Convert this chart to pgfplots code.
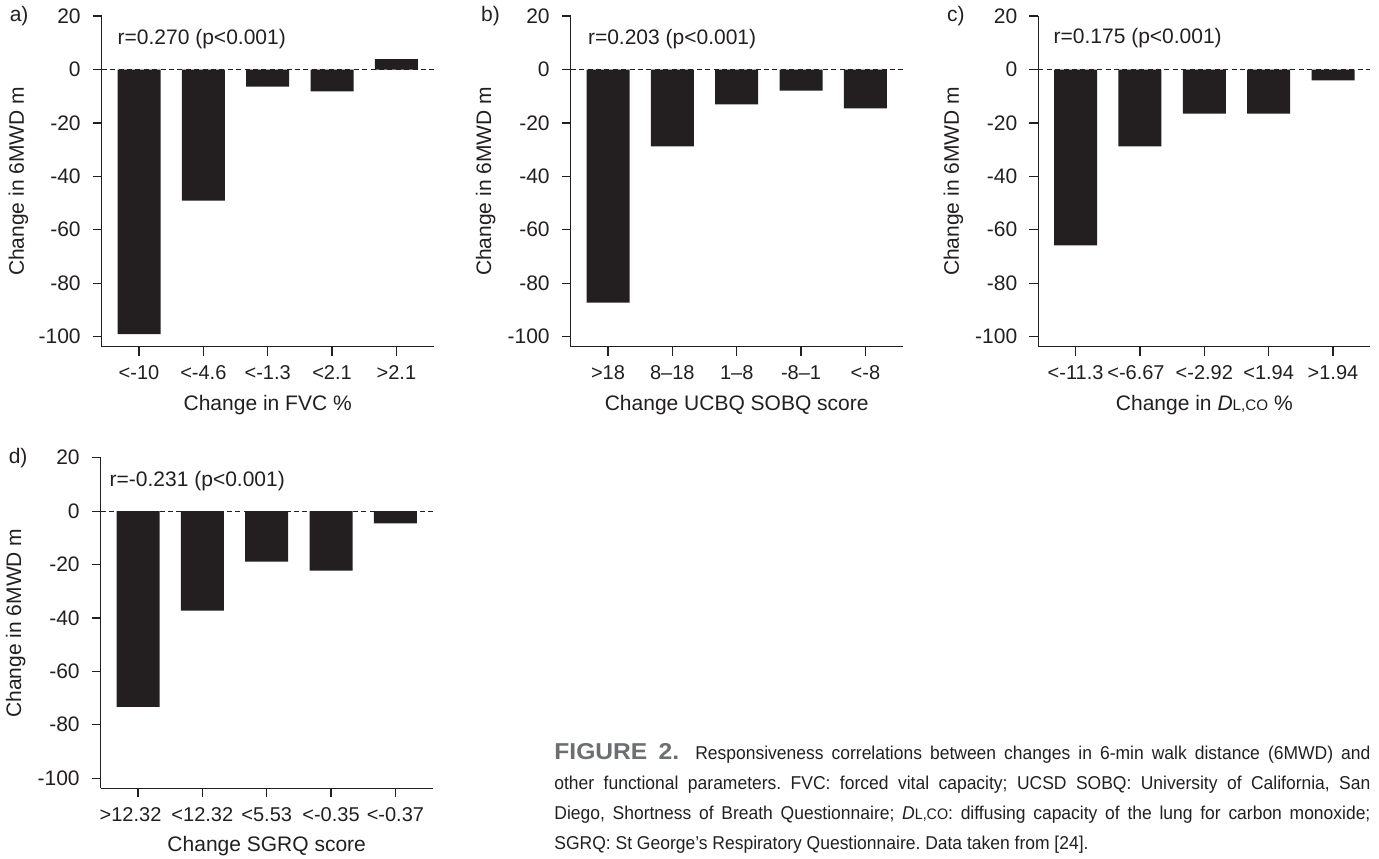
\documentclass[border=0pt]{standalone}
\usepackage{fontspec}
\setmainfont{Liberation Sans}
\newfontfamily\capfont[FakeStretch=0.94]{Liberation Sans}
\newfontfamily\figfont[FakeStretch=1.07]{Liberation Sans}
\usepackage{pgfplots}
\pgfplotsset{compat=1.18}
\definecolor{ink}{HTML}{231F20}
\definecolor{figgray}{HTML}{6D6E71}
\newcommand\chartfont{\fontsize{10.5}{12}\selectfont}
\newcommand\tickfont{\fontsize{10}{12}\selectfont}
\newcommand\smallcaps[1]{{\fontsize{7.6}{9}\selectfont #1}}
\pgfplotsset{
  panel/.style={
    scale only axis, width=166pt, height=165.3pt,
    xmin=-0.58, xmax=4.58, ymin=-103.8, ymax=20,
    axis x line*=bottom, axis y line*=left,
    axis line style={-, ink, line width=0.6pt},
    tick align=outside, major tick length=4.5pt,
    tick style={ink, line width=0.6pt},
    xtick={0,1,2,3,4},
    ytick={-100,-80,-60,-40,-20,0,20},
    yticklabels={-100,-80,-60,-40,-20,0,20},
    tick label style={font=\tickfont, text=ink},
    yticklabel style={xshift=-2.5pt, font=\chartfont},
    xticklabel style={anchor=base, yshift=-12pt},
    label style={font=\chartfont, text=ink},
    ylabel={Change in 6MWD m},
    ylabel style={at={(rel axis cs:-0.256,0.5)}, anchor=center},
    xlabel style={at={(rel axis cs:0.5,-0.192)}, anchor=base},
    clip=false,
  },
  bars/.style={ybar, bar width=21.5pt, fill=ink, draw=none},
  zero/.style={sharp plot, ink, line width=0.5pt, dash pattern=on 2.5pt off 1.7pt, forget plot},
}
\begin{document}
\frenchspacing
\begin{tikzpicture}
\useasboundingbox (0,0) rectangle (689.5pt,429pt);
% panel a
\begin{axis}[panel, at={(50.85pt,255.65pt)}, anchor=south west,
  xticklabels={<-10,<-4.6,<-1.3,<2.1,>2.1},
  xlabel={Change in FVC \%},
  ylabel style={at={(rel axis cs:-0.251,0.5)}}]
  \addplot[bars] coordinates {(0,-99.1) (1,-49.1) (2,-6.4) (3,-8.2) (4,3.9)};
  \addplot[zero] coordinates {(-0.58,0) (4.58,0)};
  \node[anchor=west, font=\chartfont, text=ink, inner sep=0pt] at (rel axis cs:0.047,0.93) {r=0.270 (p<0.001)};
  \node[anchor=west, font=\chartfont, text=ink, inner sep=0pt] at (rel axis cs:-0.278,1) {a)};
\end{axis}
% panel b
\begin{axis}[panel, at={(285.35pt,255.65pt)}, anchor=south west,
  xticklabels={>18,8–18,1–8,-8–1,<-8},
  xlabel={Change UCBQ SOBQ score}]
  \addplot[bars] coordinates {(0,-87.3) (1,-28.8) (2,-13.1) (3,-7.9) (4,-14.6)};
  \addplot[zero] coordinates {(-0.58,0) (4.58,0)};
  \node[anchor=west, font=\chartfont, text=ink, inner sep=0pt] at (rel axis cs:0.051,0.93) {r=0.203 (p<0.001)};
  \node[anchor=west, font=\chartfont, text=ink, inner sep=0pt] at (rel axis cs:-0.271,1) {b)};
\end{axis}
% panel c
\begin{axis}[panel, at={(519.15pt,255.65pt)}, anchor=south west,
  xticklabels={<-11.3,<-6.67\hspace*{4pt},<-2.92,<1.94,>1.94},
  xlabel={Change in \textit{D}\smallcaps{L,CO} \%}]
  \addplot[bars] coordinates {(0,-65.9) (1,-28.8) (2,-16.5) (3,-16.5) (4,-4.1)};
  \addplot[zero] coordinates {(-0.58,0) (4.58,0)};
  \node[anchor=west, font=\chartfont, text=ink, inner sep=0pt] at (rel axis cs:0.045,0.935) {r=0.175 (p<0.001)};
  \node[anchor=west, font=\chartfont, text=ink, inner sep=0pt] at (rel axis cs:-0.276,1) {c)};
\end{axis}
% panel d
\begin{axis}[panel, at={(50.35pt,34.85pt)}, anchor=south west,
  xticklabels={>12.32\hspace*{7.5pt},<12.32,<5.53,<-0.35,<-0.37},
  xlabel={Change SGRQ score}]
  \addplot[bars] coordinates {(0,-73.3) (1,-37.3) (2,-18.9) (3,-22.3) (4,-4.6)};
  \addplot[zero] coordinates {(-0.58,0) (4.58,0)};
  \node[anchor=west, font=\chartfont, text=ink, inner sep=0pt] at (rel axis cs:0.026,0.929) {r=-0.231 (p<0.001)};
  \node[anchor=west, font=\chartfont, text=ink, inner sep=0pt] at (rel axis cs:-0.278,1) {d)};
\end{axis}
% caption
\node[anchor=base west, inner sep=0pt, text width=408pt, align=justify,
      font=\capfont\fontsize{9.3}{15}\selectfont, text=ink] at (277pt,49.25pt)
{{\figfont\bfseries\fontsize{11.5}{15}\selectfont\color{figgray}FIGURE 2.}\ \ Responsiveness correlations between changes in 6-min walk distance (6MWD) and\linebreak
other functional parameters. FVC: forced vital capacity; UCSD SOBQ: University of California, San\linebreak
Diego, Shortness of Breath Questionnaire; \textit{D}\smallcaps{L,CO}: diffusing capacity of the lung for carbon monoxide;\linebreak
SGRQ: St George’s Respiratory Questionnaire. Data taken from [24].};
\end{tikzpicture}
\end{document}
